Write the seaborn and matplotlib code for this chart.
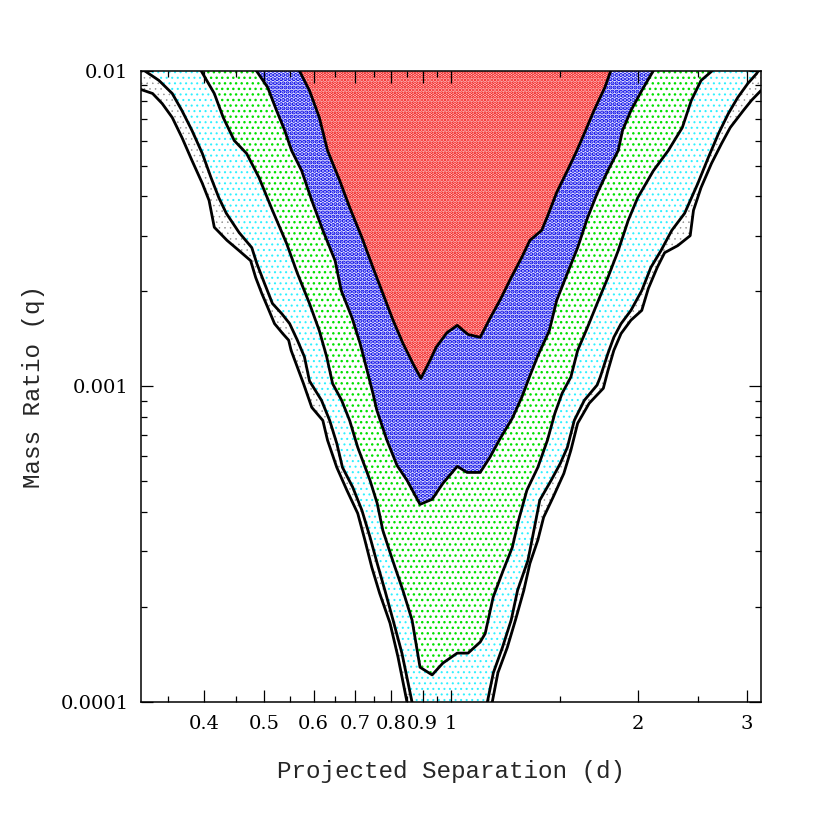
import matplotlib
matplotlib.use("Agg")
import matplotlib.pyplot as plt
import seaborn as sns
from matplotlib.ticker import FixedLocator, FixedFormatter, NullFormatter

# Contour outlines
# d = projected separation, q = mass ratio

# outermost level: two branches, both run into the bottom axis
a_left_d = [0.316, 0.330, 0.342, 0.355, 0.368, 0.382, 0.397, 0.407, 0.415, 0.435, 0.455,
            0.475, 0.484, 0.495, 0.506, 0.519, 0.535, 0.547, 0.552, 0.565, 0.578, 0.596,
            0.621, 0.632, 0.654, 0.679, 0.707, 0.726, 0.745, 0.767, 0.797, 0.821, 0.849]
a_left_q = [0.00871, 0.00846, 0.00786, 0.00710, 0.00614, 0.00519, 0.00439, 0.00388, 0.00319,
            0.00290, 0.00269, 0.00250, 0.00221, 0.00197, 0.00178, 0.00158, 0.00147, 0.00140,
            0.00130, 0.00115, 0.00102, 0.000858, 0.000780, 0.000675, 0.000554, 0.000469,
            0.000396, 0.000326, 0.000267, 0.000221, 0.000178, 0.000139, 0.0001]
a_right_d = [1.165, 1.19, 1.232, 1.27, 1.31, 1.34, 1.38, 1.41, 1.46, 1.52, 1.56, 1.60, 1.67,
             1.76, 1.79, 1.83, 1.88, 1.95, 2.03, 2.08, 2.15, 2.21, 2.32, 2.43, 2.46, 2.53,
             2.63, 2.73, 2.82, 2.96, 3.05, 3.16]
a_right_q = [0.0001, 0.000124, 0.000149, 0.000182, 0.000226, 0.000275, 0.000326, 0.000385,
             0.000445, 0.000530, 0.000627, 0.000764, 0.000884, 0.000986, 0.00112, 0.00130,
             0.00147, 0.00162, 0.00174, 0.00204, 0.00238, 0.00265, 0.00279, 0.00300, 0.00361,
             0.00426, 0.00508, 0.00587, 0.00660, 0.00747, 0.00804, 0.00864]

# second level
b_left_d = [0.320, 0.338, 0.355, 0.368, 0.382, 0.397, 0.410, 0.422, 0.434, 0.455, 0.477,
            0.486, 0.500, 0.515, 0.533, 0.549, 0.565, 0.580, 0.591, 0.618, 0.637, 0.654,
            0.668, 0.694, 0.718, 0.740, 0.760, 0.782, 0.806, 0.833, 0.865]
b_left_q = [0.0100, 0.00930, 0.00846, 0.00747, 0.00646, 0.00546, 0.00458, 0.00396, 0.00353,
            0.00307, 0.00275, 0.00245, 0.00212, 0.00183, 0.00170, 0.00158, 0.00140, 0.00124,
            0.00104, 0.000903, 0.000780, 0.000660, 0.000554, 0.000479, 0.000405, 0.000333,
            0.000275, 0.000226, 0.000182, 0.000143, 0.0001]
b_right_d = [1.144, 1.17, 1.21, 1.25, 1.28, 1.33, 1.36, 1.39, 1.45, 1.50, 1.54, 1.58, 1.64,
             1.72, 1.74, 1.79, 1.83, 1.88, 1.95, 2.03, 2.10, 2.18, 2.27, 2.38, 2.50, 2.60,
             2.70, 2.80, 2.90, 3.01, 3.11, 3.13]
b_right_q = [0.0001, 0.000124, 0.000149, 0.000182, 0.000226, 0.000281, 0.000350, 0.000436,
             0.000504, 0.000570, 0.000641, 0.000780, 0.000903, 0.00101, 0.00107, 0.00127,
             0.00143, 0.00158, 0.00174, 0.00201, 0.00238, 0.00269, 0.00312, 0.00353, 0.00439,
             0.00531, 0.00632, 0.00731, 0.00822, 0.00910, 0.00978, 0.0100]

# green level (closed, top edge to top edge)
c_d = [0.395, 0.415, 0.429, 0.447, 0.468, 0.490, 0.515, 0.543, 0.565, 0.591, 0.613, 0.630,
       0.644, 0.666, 0.686, 0.707, 0.740, 0.760, 0.776, 0.805, 0.836, 0.865, 0.880, 0.891,
       0.932, 0.970, 1.023, 1.065, 1.114, 1.135, 1.169, 1.214, 1.255, 1.285, 1.325, 1.38,
       1.43, 1.47, 1.51, 1.56, 1.60, 1.66, 1.72, 1.79, 1.86, 1.93, 2.00, 2.12, 2.24, 2.36,
       2.44, 2.53, 2.64]
c_q = [0.0100, 0.00846, 0.00710, 0.00600, 0.00546, 0.00458, 0.00361, 0.00283, 0.00228,
       0.00183, 0.00150, 0.00124, 0.00102, 0.000903, 0.000780, 0.000641, 0.000504, 0.000426,
       0.000350, 0.000281, 0.000226, 0.000182, 0.000149, 0.000129, 0.000122, 0.000133,
       0.000143, 0.000143, 0.000155, 0.000165, 0.000215, 0.000262, 0.000309, 0.000377,
       0.000469, 0.000554, 0.000675, 0.000821, 0.000950, 0.00107, 0.00130, 0.00154, 0.00183,
       0.00221, 0.00269, 0.00335, 0.00396, 0.00482, 0.00558, 0.00660, 0.00804, 0.00930, 0.0100]

# blue level
d_d = [0.485, 0.506, 0.523, 0.539, 0.553, 0.574, 0.596, 0.621, 0.650, 0.665, 0.692, 0.713,
       0.734, 0.748, 0.759, 0.788, 0.818, 0.849, 0.891, 0.932, 0.970, 1.023, 1.061, 1.114,
       1.155, 1.20, 1.255, 1.30, 1.34, 1.38, 1.44, 1.48, 1.54, 1.60, 1.66, 1.72, 1.79, 1.86,
       1.89, 1.95, 2.03, 2.12]
d_q = [0.0100, 0.00884, 0.00747, 0.00646, 0.00558, 0.00482, 0.00388, 0.00312, 0.00250,
       0.00201, 0.00165, 0.00137, 0.00110, 0.000950, 0.000840, 0.000675, 0.000562, 0.000504,
       0.000423, 0.000439, 0.000493, 0.000558, 0.000534, 0.000534, 0.000596, 0.000684,
       0.000792, 0.000923, 0.00108, 0.00125, 0.00150, 0.00187, 0.00228, 0.00275, 0.00342,
       0.00408, 0.00482, 0.00558, 0.00646, 0.00747, 0.00864, 0.0100]

# red (innermost) level
e_d = [0.569, 0.591, 0.613, 0.632, 0.661, 0.686, 0.718, 0.748, 0.776, 0.806, 0.836, 0.868,
       0.894, 0.925, 0.946, 0.985, 1.023, 1.065, 1.114, 1.155, 1.20, 1.25, 1.30, 1.34, 1.40,
       1.43, 1.48, 1.54, 1.59, 1.64, 1.70, 1.77, 1.81]
e_q = [0.0100, 0.00864, 0.00710, 0.00558, 0.00449, 0.00369, 0.00296, 0.00238, 0.00197,
       0.00162, 0.00137, 0.00118, 0.00106, 0.00121, 0.00133, 0.00148, 0.00156, 0.00146,
       0.00143, 0.00164, 0.00188, 0.00221, 0.00256, 0.00290, 0.00312, 0.00345, 0.00411,
       0.00482, 0.00550, 0.00632, 0.00747, 0.00884, 0.0100]

# axes
x_lim = [10 ** -0.5, 10 ** 0.5]
y_lim = [0.0001, 0.01]
x_major = [0.4, 0.5, 0.6, 0.7, 0.8, 0.9, 1, 2, 3]
x_major_labels = ['0.4', '0.5', '0.6', '0.7', '0.8', '0.9', '1', '2', '3']
x_minor = [0.35, 0.45, 0.55, 0.65, 0.75, 0.85, 0.95, 1.5, 2.5]
y_major = [0.0001, 0.001, 0.01]
y_major_labels = ['0.0001', '0.001', '0.01']
y_minor = [m * 1e-4 for m in range(2, 10)] + [m * 1e-3 for m in range(2, 10)]

sns.set_style("ticks")
plt.rcParams['font.family'] = ['DejaVu Serif']
plt.rcParams['hatch.linewidth'] = 1.0

fig = plt.figure(figsize=(8.3, 8.3), dpi=100)
ax = fig.add_axes([0.170, 0.154, 0.747, 0.761])
ax.set_xscale('log')
ax.set_yscale('log')

# filled bands, outermost first; each inner polygon paints over the previous one
bands = [
    ([x_lim[0]] + a_left_d + a_right_d + [x_lim[1]],
     [y_lim[1]] + a_left_q + a_right_q + [y_lim[1]], 'white', '0.55', '...', 0.35),
    (b_left_d + b_right_d, b_left_q + b_right_q, 'white', '#30f0ff', '...', 0.75),
    (c_d, c_q, 'white', '#00e000', '...', 1.0),
    (d_d, d_q, '#e6e6ff', '#0000e6', '....', 2.1),
    (e_d, e_q, '#ffe0e0', '#f00000', '.....', 1.8),
]
for xs, ys, face, col, hatch, hlw in bands:
    for p in ax.fill(xs, ys, facecolor=face, edgecolor=col, hatch=hatch,
                     linewidth=0, zorder=1):
        if hasattr(p, 'set_hatch_linewidth'):
            p.set_hatch_linewidth(hlw)

# black contour lines
for xs, ys in [(a_left_d, a_left_q), (a_right_d, a_right_q),
               (b_left_d, b_left_q), (b_right_d, b_right_q),
               (c_d, c_q), (d_d, d_q), (e_d, e_q)]:
    sns.lineplot(x=xs, y=ys, sort=False, estimator=None, color='black',
                 linewidth=2.0, ax=ax, zorder=2)

ax.set_xlim(x_lim)
ax.set_ylim(y_lim)
ax.set_axisbelow(False)

ax.xaxis.set_major_locator(FixedLocator(x_major))
ax.xaxis.set_major_formatter(FixedFormatter(x_major_labels))
ax.xaxis.set_minor_locator(FixedLocator(x_minor))
ax.xaxis.set_minor_formatter(NullFormatter())
ax.yaxis.set_major_locator(FixedLocator(y_major))
ax.yaxis.set_major_formatter(FixedFormatter(y_major_labels))
ax.yaxis.set_minor_locator(FixedLocator(y_minor))
ax.yaxis.set_minor_formatter(NullFormatter())

ax.tick_params(which='both', direction='in', top=True, right=True,
               colors='black', width=0.9)
ax.tick_params(which='major', length=8.6, pad=9, labelsize=14)
ax.tick_params(which='minor', length=4.3)
for s in ax.spines.values():
    s.set_color('black')
    s.set_linewidth(1.1)

ax.set_xlabel('Projected Separation (d)', family=['Liberation Mono', 'DejaVu Sans'],
              fontsize=17.5, labelpad=20)
ax.set_ylabel('Mass Ratio (q)', family=['Liberation Mono', 'DejaVu Sans'],
              fontsize=17.5, labelpad=11)

fig.savefig('out.png', dpi=100, facecolor='white')
